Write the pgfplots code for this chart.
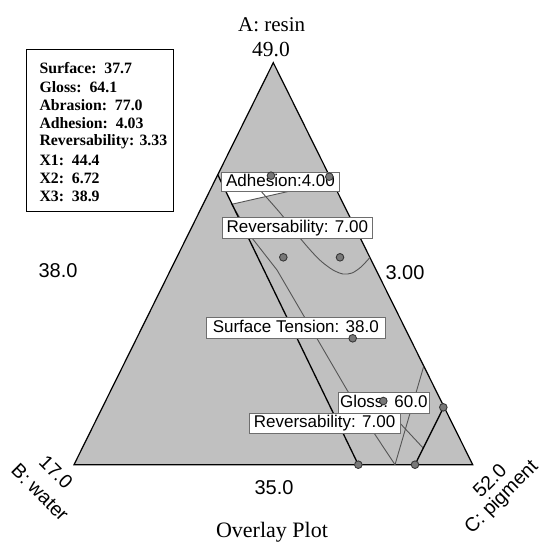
\documentclass[border=0pt]{standalone}
\usepackage{fontspec}
\setmainfont{Liberation Serif}
\setsansfont{Liberation Sans}
\usepackage{pgfplots}
\pgfplotsset{compat=1.18}
\definecolor{trifill}{RGB}{192,192,192}
\definecolor{cline}{RGB}{85,85,85}
\definecolor{boxedge}{RGB}{110,110,110}
\definecolor{dotfill}{RGB}{120,120,120}
\definecolor{dotedge}{RGB}{55,55,55}
\tikzset{
  lbl/.style={draw=boxedge, line width=0.9pt, fill=white, inner sep=0pt,
    font=\sffamily\fontsize{17}{17}\selectfont, text height=12.4pt, text depth=3.6pt},
  leg/.style={anchor=west, inner sep=0pt, font=\rmfamily\bfseries\fontsize{15.8}{16}\selectfont},
}
\begin{document}
\begin{tikzpicture}
\begin{axis}[
  x=1pt, y=1pt, xmin=0, xmax=542, ymin=0, ymax=543,
  y dir=reverse, hide axis, clip=false,
]
% triangle
\addplot[fill=trifill, draw=black, line width=1.2pt] coordinates {(273.3,62.7) (74,464.7) (472.7,464.7)} -- cycle;
% white region below Adhesion label
\addplot[fill=white, draw=none] coordinates {(221,180) (231.7,204.3) (292,190.5) (300,180)} -- cycle;
% Adhesion 4.00 contour
\addplot[cline, line width=0.9pt] coordinates {(231.7,204.3) (300,188.8)};
% Reversability 7.00 upper contour
\addplot[cline, line width=0.9pt, smooth] coordinates {(258,188) (262,192.3) (281,214) (300,238) (312,252) (322,262) (333,270) (343,274) (352,273) (361,267) (369.9,257.5)};
% Surface tension 38.0 contour
\addplot[cline, line width=0.9pt] coordinates {(231.7,204.3) (252,238) (277,270) (347,390) (374,433) (395,464.7)};
% Gloss 60.0 contour
\addplot[cline, line width=0.9pt] coordinates {(423.6,366.7) (395,464.7)};
% Reversability 7.00 lower contour
\addplot[cline, line width=0.9pt] coordinates {(385,408) (401.7,425) (423.4,448.3)};
% constraint lines
\addplot[black, line width=1.3pt] coordinates {(217.7,174.6) (358.3,464.7)};
\addplot[black, line width=1.3pt] coordinates {(443.6,407.3) (415,464.7)};
% labels
\node[lbl, minimum width=117.6pt, minimum height=19.4pt] at (280.5,182) {Adhesion:4.00};
\node[lbl, minimum width=150pt, minimum height=20.6pt] at (297.3,228) {Reversability: 7.00};
\node[lbl, minimum width=178.3pt, minimum height=21pt] at (295.8,327.8) {Surface Tension: 38.0};
\node[lbl, minimum width=91pt, minimum height=20.6pt] at (383.8,403) {Gloss: 60.0};
\node[lbl, minimum width=150.7pt, minimum height=20pt] at (324.6,423.3) {Reversability: 7.00};
% design points
\addplot[only marks, mark=*, mark size=3.8pt, mark options={fill=dotfill, draw=dotedge, line width=0.9pt}] coordinates {
(271,175.7) (329.3,176.7) (283.3,257.3) (340,257.3) (352.7,338.3) (383.3,401) (443.3,407.3) (358.3,464.7) (415,464.7)};
% axis texts
\node[font=\rmfamily\fontsize{21}{21}\selectfont, inner sep=0pt] at (271.7,24.5) {A: resin};
\node[font=\rmfamily\fontsize{21.5}{21.5}\selectfont, inner sep=0pt] at (271,49.2) {49.0};
\node[font=\sffamily\fontsize{20}{20}\selectfont, inner sep=0pt] at (58,271) {38.0};
\node[font=\sffamily\fontsize{20}{20}\selectfont, inner sep=0pt] at (405,273) {3.00};
\node[font=\sffamily\fontsize{20}{20}\selectfont, inner sep=0pt] at (274,487.5) {35.0};
\node[font=\sffamily\fontsize{19.5}{19.5}\selectfont, inner sep=0pt, rotate=-45] at (56,472) {17.0};
\node[font=\sffamily\fontsize{19.5}{19.5}\selectfont, inner sep=0pt, rotate=-45] at (40,492.5) {B: water};
\node[font=\sffamily\fontsize{19.5}{19.5}\selectfont, inner sep=0pt, rotate=45] at (489.5,480.5) {52.0};
\node[font=\sffamily\fontsize{19.5}{19.5}\selectfont, inner sep=0pt, rotate=45] at (502,497.5) {C: pigment};
\node[font=\rmfamily\fontsize{22}{22}\selectfont, inner sep=0pt, anchor=base] at (272,537) {Overlay Plot};
% info box
\draw[black, line width=1pt] (26.7,50) rectangle (173.3,211.7);
\node[leg] at (39.3,68.3) {Surface:\ \ 37.7};
\node[leg] at (39.3,86.7) {Gloss:\ \ 64.1};
\node[leg] at (39.3,105) {Abrasion:\ \ 77.0};
\node[leg] at (39.3,123.3) {Adhesion:\ \ 4.03};
\node[leg] at (39.3,141.7) {Reversability: 3.33};
\node[leg] at (39.3,160) {X1:\ \ 44.4};
\node[leg] at (39.3,178.3) {X2:\ \ 6.72};
\node[leg] at (39.3,196.7) {X3:\ \ 38.9};
\end{axis}
\pgfresetboundingbox
\useasboundingbox (0,0) rectangle (542pt,543pt);
\end{tikzpicture}
\end{document}
